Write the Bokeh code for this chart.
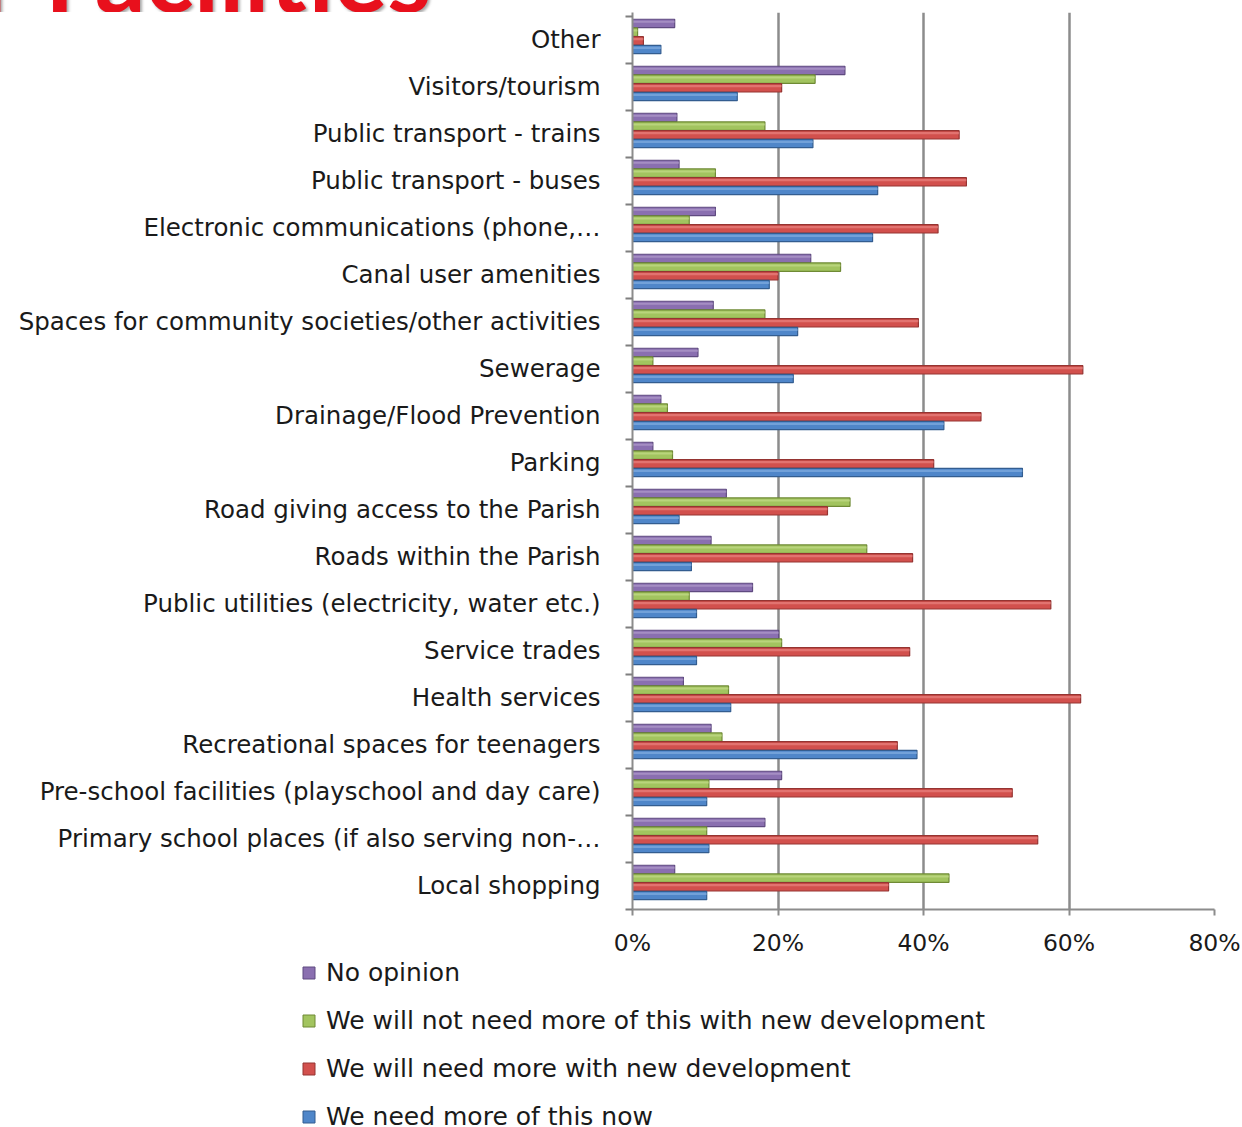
from bokeh.plotting import figure
from bokeh.models import (ColumnDataSource, FixedTicker, PrintfTickFormatter, Legend,
                          LegendItem, Range1d, Div)
from bokeh.layouts import column
from bokeh.transform import dodge
from bokeh.embed import file_html
from bokeh.resources import INLINE

categories = [
    "Other", "Visitors/tourism", "Public transport - trains", "Public transport - buses",
    "Electronic communications (phone,…", "Canal user amenities",
    "Spaces for community societies/other activities", "Sewerage",
    "Drainage/Flood Prevention", "Parking", "Road giving access to the Parish",
    "Roads within the Parish", "Public utilities (electricity, water etc.)",
    "Service trades", "Health services", "Recreational spaces for teenagers",
    "Pre-school facilities (playschool and day care)",
    "Primary school places (if also serving non-…", "Local shopping",
]
no_opinion = [5.8, 29.2, 6.1, 6.4, 11.4, 24.5, 11.1, 9.0, 3.9, 2.8, 12.9, 10.8, 16.5, 20.1, 7.0, 10.8, 20.5, 18.2, 5.8]
not_need = [0.7, 25.1, 18.2, 11.4, 7.8, 28.6, 18.2, 2.8, 4.8, 5.5, 29.9, 32.2, 7.8, 20.5, 13.2, 12.3, 10.5, 10.2, 43.5]
need_later = [1.5, 20.5, 44.9, 45.9, 42.0, 20.0, 39.3, 61.9, 47.9, 41.4, 26.8, 38.5, 57.5, 38.1, 61.6, 36.4, 52.2, 55.7, 35.2]
need_now = [3.9, 14.4, 24.8, 33.7, 33.0, 18.8, 22.7, 22.1, 42.8, 53.6, 6.4, 8.1, 8.8, 8.8, 13.5, 39.1, 10.2, 10.5, 10.2]
series_names = ["No opinion", "We will not need more of this with new development",
                "We will need more with new development", "We need more of this now"]
x_ticks = [0, 20, 40, 60, 80]
title_hidden = "Parish"
title_text = "Facilities"

FONT = "DejaVu Sans"
TXT = "#1a1a1a"
W = 1242
n = len(categories)
ypos = [n - 1 - i for i in range(n)]
src = ColumnDataSource(dict(y=ypos, cat=categories, a=no_opinion, b=not_need,
                            c=need_later, d=need_now))

# --- cut-off red heading strip ---
span_style = ('position:absolute;bottom:-11px;white-space:nowrap;font-family:Lato;'
              'font-weight:bold;font-size:100px;line-height:100px;color:#e8101c;'
              'text-shadow:2px 2px 3px rgba(0,0,0,0.35);')
title_html = (
    '<div style="position:relative;width:%dpx;height:12px;">'
    '<span style="left:45px;%s">%s</span>'
    '<span style="right:%dpx;%s">%s</span></div>'
) % (W, span_style, title_text, W - 6, span_style, title_hidden)
head = Div(text=title_html, width=W, height=12, margin=(0, 0, 0, 0),
           styles={"overflow": "hidden"})

# --- main chart ---
FRAME_TOP, FRAME_BOTTOM = 12, 909
P_H = 947
p = figure(width=W, height=P_H, output_backend="svg", toolbar_location=None,
           x_range=Range1d(0, 80), y_range=Range1d(-0.5, 18.585),
           min_border_left=632, min_border_right=W - 1214, min_border_top=0,
           min_border_bottom=P_H - (FRAME_BOTTOM - FRAME_TOP), margin=(0, 0, 0, 0))
p.outline_line_color = None
p.background_fill_color = "white"
p.border_fill_color = "white"

fills = ["#8a6fb0", "#a2c45f", "#d2504d", "#4f86c9"]
lines = ["#5f4a80", "#6f8a35", "#953432", "#335d90"]
hilite = ["#b7a3d0", "#c8e08f", "#ec8b88", "#8bb4e4"]
cols = ["a", "b", "c", "d"]
pitch, bh, shift = 0.185, 0.178, 0.075
offs = [1.5 * pitch + shift, 0.5 * pitch + shift, -0.5 * pitch + shift, -1.5 * pitch + shift]

for col, f, lc, hl, off in zip(cols, fills, lines, hilite, offs):
    p.hbar(y=dodge("y", off, range=p.y_range), left=0, right=col, height=bh,
           source=src, fill_color=f, line_color=lc, line_width=1.2)
    p.hbar(y=dodge("y", off + 0.035, range=p.y_range), left=0, right=col, height=0.045,
           source=src, fill_color=hl, line_color=None, fill_alpha=0.6)

p.xaxis.ticker = FixedTicker(ticks=x_ticks)
p.xaxis.formatter = PrintfTickFormatter(format="%d%%")
p.xaxis.axis_line_color = "#8c8c8c"
p.xaxis.axis_line_width = 2
p.xaxis.major_tick_line_color = "#8c8c8c"
p.xaxis.major_tick_line_width = 2
p.xaxis.major_tick_out = 6
p.xaxis.major_tick_in = 0
p.xaxis.minor_tick_line_color = None
p.xaxis.major_label_text_font = FONT
p.xaxis.major_label_text_font_size = "23.5px"
p.xaxis.major_label_text_color = TXT
p.xaxis.major_label_standoff = 13

p.yaxis.ticker = FixedTicker(ticks=ypos, minor_ticks=[v - 0.5 for v in range(n + 1)])
p.yaxis.major_label_overrides = {y: c for y, c in zip(ypos, categories)}
p.yaxis.axis_line_color = "#8c8c8c"
p.yaxis.axis_line_width = 2
p.yaxis.major_tick_line_color = None
p.yaxis.major_tick_out = 0
p.yaxis.major_tick_in = 0
p.yaxis.minor_tick_line_color = "#7f7f7f"
p.yaxis.minor_tick_line_width = 2
p.yaxis.minor_tick_out = 7
p.yaxis.minor_tick_in = 0
p.yaxis.major_label_text_font = FONT
p.yaxis.major_label_text_font_size = "24.5px"
p.yaxis.major_label_text_color = TXT
p.yaxis.major_label_standoff = 25

p.xgrid.ticker = FixedTicker(ticks=x_ticks[1:])
p.xgrid.grid_line_color = "#8c8c8c"
p.xgrid.grid_line_width = 2.5
p.ygrid.grid_line_color = None

# --- legend strip (separate root so its frame spans the full width) ---
L_H = 178
pl = figure(width=W, height=L_H, output_backend="svg", toolbar_location=None,
            x_axis_location=None, y_axis_location=None,
            x_range=Range1d(0, 1), y_range=Range1d(0, 1),
            min_border=0, margin=(0, 0, 0, 0))
pl.outline_line_color = None
pl.grid.grid_line_color = None
nan = float("nan")
proxies = [pl.hbar(y=[nan], left=[nan], right=[nan], height=0.1, fill_color=f, line_color=lc)
           for f, lc in zip(fills, lines)]
legend = Legend(items=[LegendItem(label=nm, renderers=[r]) for nm, r in zip(series_names, proxies)],
                location=(301, 5), orientation="vertical",
                label_text_font=FONT, label_text_font_size="25px", label_text_color=TXT,
                glyph_width=15, glyph_height=15, label_height=31, label_standoff=10,
                spacing=17, padding=0, margin=0, border_line_color=None,
                background_fill_alpha=0)
pl.add_layout(legend, "center")

top = column(head, p, spacing=0)
open("out.html", "w").write(file_html([top, pl], INLINE))
